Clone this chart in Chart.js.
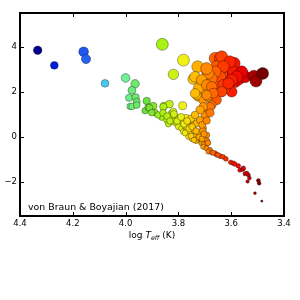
<!DOCTYPE html>
<html>
<head>
<meta charset="utf-8">
<script src="https://cdn.jsdelivr.net/npm/chart.js@4"></script>
<style>
  html, body { margin: 0; padding: 0; background: #fff; }
</style>
</head>
<body>
<canvas id="myChart" width="300" height="300"></canvas>
<script>
// log Teff and log L/Lsun
var logTeff = [
    4.333, 4.270, 4.159, 4.150, 4.078,
    4.000, 3.964, 3.976, 3.987, 3.962, 3.958, 3.983, 3.976, 3.958, 3.920, 3.926, 3.914, 3.895, 3.910,
    3.889, 3.901, 3.855, 3.834, 3.784, 3.863, 3.825, 3.819, 3.857,
    3.861, 3.781, 3.819,
    3.844, 3.825, 3.813, 3.800, 3.819, 3.806, 3.794, 3.781, 3.800, 3.787, 3.775, 3.781, 3.769, 3.756,
    3.762, 3.749, 3.743, 3.756, 3.737, 3.725, 3.712, 3.699, 3.721, 3.706, 3.693, 3.838, 3.771, 3.749,
    3.733, 3.741, 3.767, 3.708, 3.726, 3.703, 3.692, 3.750, 3.731, 3.718, 3.710,
    3.877, 3.858, 3.843, 3.832, 3.817, 3.805, 3.790, 3.779, 3.767, 3.760, 3.748, 3.775, 3.752, 3.733,
    3.722, 3.711, 3.703, 3.688, 3.741,
    3.706, 3.693, 3.680, 3.687, 3.674, 3.661, 3.655, 3.642, 3.669, 3.650, 3.631,
    3.620, 3.602, 3.592, 3.586, 3.573, 3.567,
    3.556, 3.554, 3.548, 3.541, 3.535, 3.531, 3.538, 3.497, 3.494, 3.510, 3.484,
    3.727, 3.744, 3.691, 3.687, 3.699, 3.718, 3.725, 3.706, 3.687, 3.668, 3.674, 3.661, 3.642, 3.639,
    3.655, 3.617, 3.589, 3.610, 3.592, 3.586, 3.573, 3.598, 3.624, 3.649, 3.636, 3.548, 3.514, 3.506,
    3.481, 3.655, 3.674, 3.687, 3.699, 3.693, 3.680, 3.706, 3.731, 3.725, 3.737, 3.636, 3.605, 3.560,
    3.630, 3.579, 3.598, 3.642, 3.661, 3.674, 3.687, 3.693, 3.737, 3.712, 3.693, 3.674, 3.630, 3.611,
    3.636, 3.668, 3.693, 3.718, 3.737, 3.680
];
var logL = [
    3.85, 3.18, 3.78, 3.46, 2.38,
    2.62, 2.36, 2.07, 1.74, 1.76, 1.57, 1.36, 1.36, 1.42, 1.60, 1.17, 1.32, 1.38, 1.30,
    1.08, 1.08, 1.38, 1.46, 1.39, 0.88, 1.05, 1.12, 1.34,
    4.11, 3.41, 2.78,
    0.76, 0.83, 0.90, 0.79, 0.68, 0.61, 0.64, 0.76, 0.46, 0.39, 0.49, 0.24, 0.31, 0.17,
    0.02, 0.68, 0.54, 0.46, 0.02, -0.13, -0.27, -0.43, 0.17, 0.39, 0.09, 0.58, 0.85, -0.08,
    -0.17, 0.31, 0.44, 0.28, -0.04, -0.31, -0.17, 0.83, 0.61, 0.76, 0.54,
    0.98, 1.07, 0.93, 0.71, 1.02, 0.71, 0.89, 0.58, 0.71, 0.36, 0.45, 0.18, 0.05, 0.27,
    0.00, -0.08, 0.14, -0.26, -0.13,
    -0.43, -0.50, -0.57, -0.65, -0.69, -0.72, -0.79, -0.85, -0.70, -0.79, -0.88,
    -0.97, -1.12, -1.16, -1.20, -1.28, -1.47,
    -1.43, -1.38, -1.63, -1.60, -1.68, -1.82, -1.97, -1.93, -2.05, -2.49, -2.84,
    3.12, 2.57, 2.94, 2.60, 2.38, 2.08, 1.79, 1.64, 1.79, 2.08, 2.45, 3.49, 3.49, 3.27,
    3.12, 2.89, 3.27, 2.60, 2.89, 2.45, 2.56, 2.01, 2.16, 2.38, 2.75, 2.67, 2.70, 2.48,
    2.82, 1.64, 1.42, 1.20, 0.98, 0.73, 1.34, 1.34, 1.86, 2.16, 1.94, 3.56, 3.34, 2.89,
    3.12, 2.67, 2.53, 2.67, 2.89, 2.60, 2.82, 3.04, 2.67, 2.53, 2.31, 2.23, 2.31, 2.38,
    2.01, 1.94, 1.86, 1.20, 0.98, 1.07
];
var xTicks = [4.4, 4.2, 4.0, 3.8, 3.6, 3.4];
var yTicks = [-2, 0, 2, 4];
var sourceNote = 'von Braun & Boyajian (2017)';

// colour stops along log Teff (hot = blue, cool = dark red)
var colorStops = [
    [4.33, [0, 0, 140]], [4.27, [0, 30, 220]], [4.16, [30, 85, 240]], [4.08, [70, 200, 240]],
    [4.00, [110, 240, 150]], [3.92, [110, 225, 60]], [3.86, [170, 240, 20]], [3.78, [240, 240, 20]],
    [3.73, [255, 180, 0]], [3.68, [255, 120, 0]], [3.62, [255, 45, 0]], [3.56, [235, 0, 0]],
    [3.50, [150, 0, 0]], [3.47, [100, 0, 0]]
];
function tempColor(t) {
    if (t >= colorStops[0][0]) return 'rgb(' + colorStops[0][1].join(',') + ')';
    for (var i = 1; i < colorStops.length; i++) {
        var a = colorStops[i - 1], b = colorStops[i];
        if (t >= b[0]) {
            var f = (a[0] - t) / (a[0] - b[0]);
            var c = a[1].map(function (v, k) { return Math.round(v + (b[1][k] - v) * f); });
            return 'rgb(' + c.join(',') + ')';
        }
    }
    return 'rgb(' + colorStops[colorStops.length - 1][1].join(',') + ')';
}
// marker size follows stellar radius: log R = 0.5 log L - 2 (log T - log Tsun)
function markerRadius(t, l) {
    var logR = 0.5 * l - 2 * (t - 3.762);
    return Math.max(0.7, Math.min(6.0, 2.8 + 1.9 * logR));
}

var points = logTeff.map(function (t, i) { return { x: t, y: logL[i] }; });
var colors = logTeff.map(function (t) { return tempColor(t); });
var radii = logTeff.map(function (t, i) { return markerRadius(t, logL[i]); });

function minusSign(v) { return v < 0 ? '\u2212' + Math.abs(v) : String(v); }

var framePlugin = {
    id: 'frame',
    afterDraw: function (chart) {
        var c = chart.ctx, a = chart.chartArea;
        var xs = chart.scales.x, ys = chart.scales.y;
        c.save();
        c.strokeStyle = '#000';
        c.lineWidth = 1;
        c.beginPath();
        xTicks.forEach(function (v) {
            var px = Math.round(xs.getPixelForValue(v)) + 0.5;
            c.moveTo(px, a.bottom); c.lineTo(px, a.bottom - 4);
            c.moveTo(px, a.top); c.lineTo(px, a.top + 4);
        });
        yTicks.forEach(function (v) {
            var py = Math.round(ys.getPixelForValue(v)) + 0.5;
            c.moveTo(a.left, py); c.lineTo(a.left + 4, py);
            c.moveTo(a.right, py); c.lineTo(a.right - 4, py);
        });
        c.stroke();
        c.lineWidth = 2;
        c.strokeRect(a.left, a.top, a.right - a.left, a.bottom - a.top);

        // source note
        c.fillStyle = '#000';
        c.font = '9.4px "DejaVu Sans"';
        c.textBaseline = 'alphabetic';
        c.textAlign = 'left';
        c.fillText(sourceNote, 28, 210);

        // x axis title: log T_eff (K)
        var big = '9px "DejaVu Sans"', bigIt = 'italic 9px "DejaVu Sans"', sub = 'italic 6.3px "DejaVu Sans"';
        var parts = [['log ', big, 0], ['T', bigIt, 0], ['eff', sub, 2], [' (K)', big, 0]];
        var w = 0;
        parts.forEach(function (p) { c.font = p[1]; w += c.measureText(p[0]).width; });
        var x = (a.left + a.right) / 2 - w / 2, y = 238;
        parts.forEach(function (p) {
            c.font = p[1];
            c.fillText(p[0], x, y + p[2]);
            x += c.measureText(p[0]).width;
        });
        c.restore();
    }
};

var ctx = document.getElementById('myChart').getContext('2d');
var myChart = new Chart(ctx, {
    type: 'scatter',
    data: {
        datasets: [{
            data: points,
            backgroundColor: colors,
            borderColor: 'rgba(0,0,0,0.55)',
            borderWidth: 0.6,
            pointRadius: radii,
            pointHoverRadius: radii
        }]
    },
    options: {
        responsive: false,
        animation: false,
        events: [],
        layout: { padding: { left: 0, right: 16, top: 13, bottom: 0 } },
        plugins: { legend: { display: false }, tooltip: { enabled: false } },
        scales: {
            x: {
                type: 'linear',
                min: 3.4,
                max: 4.4,
                reverse: true,
                afterBuildTicks: function (s) { s.ticks = xTicks.map(function (v) { return { value: v }; }); },
                afterFit: function (s) { s.height = 84; },
                grid: { display: false, drawTicks: false },
                border: { display: false },
                ticks: {
                    padding: 3,
                    color: '#000',
                    font: { family: 'DejaVu Sans', size: 8.5 },
                    maxRotation: 0,
                    callback: function (v) { return Number(v).toFixed(1); }
                }
            },
            y: {
                min: -3.5,
                max: 5.5,
                afterBuildTicks: function (s) { s.ticks = yTicks.map(function (v) { return { value: v }; }); },
                afterFit: function (s) { s.width = 20; },
                grid: { display: false, drawTicks: false },
                border: { display: false },
                ticks: {
                    padding: 3,
                    color: '#000',
                    font: { family: 'DejaVu Sans', size: 8.5 },
                    callback: function (v) { return minusSign(v); }
                }
            }
        }
    },
    plugins: [framePlugin]
});
</script>
</body>
</html>
